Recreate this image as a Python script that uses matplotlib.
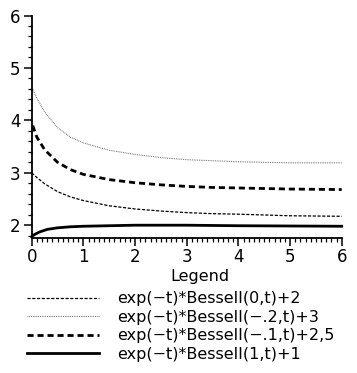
import matplotlib
matplotlib.use('Agg')
import matplotlib.pyplot as plt
from matplotlib.ticker import MultipleLocator

plt.rcParams['font.family'] = ['DejaVu Sans']

# t values and curve values
t_i0 = [0.0, 0.1, 0.25, 0.5, 0.75, 1.0, 1.5, 2.0, 2.5, 3.0, 3.5, 4.0, 5.0, 6.0]
y_i0 = [3.0, 2.91, 2.79, 2.64, 2.54, 2.47, 2.37, 2.31, 2.27, 2.24, 2.22, 2.21, 2.18, 2.17]

t_m02 = [0.02, 0.1, 0.25, 0.5, 0.75, 1.0, 1.5, 2.0, 2.5, 3.0, 3.5, 4.0, 5.0, 6.0]
y_m02 = [4.6, 4.42, 4.16, 3.86, 3.68, 3.57, 3.43, 3.35, 3.29, 3.25, 3.23, 3.21, 3.19, 3.19]

t_m01 = [0.02, 0.1, 0.25, 0.5, 0.75, 1.0, 1.5, 2.0, 2.5, 3.0, 3.5, 4.0, 5.0, 6.0]
y_m01 = [3.9, 3.68, 3.44, 3.2, 3.06, 2.97, 2.87, 2.81, 2.77, 2.74, 2.72, 2.71, 2.69, 2.68]

t_i1 = [0.0, 0.05, 0.15, 0.3, 0.5, 0.75, 1.0, 1.5, 2.0, 3.0, 4.0, 5.0, 6.0]
y_i1 = [1.78, 1.82, 1.87, 1.92, 1.95, 1.97, 1.98, 1.99, 2.0, 2.0, 1.99, 1.985, 1.98]

labels = ['exp(−t)*BesselI(0,t)+2',
          'exp(−t)*BesselI(−.2,t)+3',
          'exp(−t)*BesselI(−.1,t)+2,5',
          'exp(−t)*BesselI(1,t)+1']

fig = plt.figure(figsize=(3.57, 3.73), dpi=100)
ax = fig.add_axes([0.0888, 0.3611, 0.8684, 0.5973])

ax.plot(t_i0, y_i0, color='black', lw=0.9, dashes=(2.5, 1.3), label=labels[0], clip_on=False)
ax.plot(t_m02, y_m02, color='0.45', lw=0.8, dashes=(0.8, 0.8), label=labels[1], clip_on=False)
ax.plot(t_m01, y_m01, color='black', lw=2.0, dashes=(2.2, 1.4), label=labels[2], clip_on=False)
ax.plot(t_i1, y_i1, color='black', lw=2.0, label=labels[3], clip_on=False)

ax.set_xlim(0, 6)
ax.set_ylim(1.75, 6)
for side in ['top', 'right']:
    ax.spines[side].set_visible(False)
for side in ['left', 'bottom']:
    ax.spines[side].set_linewidth(1.3)

ax.xaxis.set_major_locator(MultipleLocator(1))
ax.xaxis.set_minor_locator(MultipleLocator(0.1))
ax.yaxis.set_major_locator(MultipleLocator(1))
ax.yaxis.set_minor_locator(MultipleLocator(0.2))
ax.tick_params(which='major', direction='out', length=6, width=1.1, labelsize=12, pad=2)
ax.tick_params(axis='x', which='major', pad=1.2)
ax.tick_params(which='minor', direction='out', length=3, width=0.9)

# legend below the axes, title placed separately
fig.text(0.56, 1 - 277 / 373, 'Legend', ha='center', va='center', fontsize=11.5)
leg = fig.legend(loc='upper left', bbox_to_anchor=(0.077, 0.219), frameon=False,
                 fontsize=11.5, handlelength=4.5, handletextpad=1.1, labelspacing=0.22,
                 borderpad=0, borderaxespad=0)

fig.savefig('out.png', dpi=100)
